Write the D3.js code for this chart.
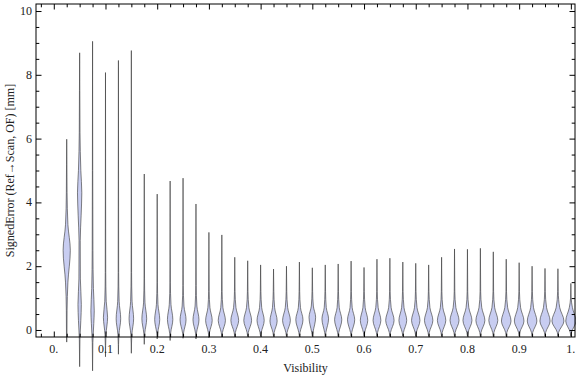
<!DOCTYPE html>
<html>
<head>
<meta charset="utf-8">
<script src="https://cdn.jsdelivr.net/npm/d3@7"></script>
<style>
  body { margin: 0; background: #fff; }
  text { font-family: "Liberation Serif", "DejaVu Serif", serif; font-size: 12px; fill: #222; }
</style>
</head>
<body>
<svg id="chart" width="576" height="377"></svg>
<script>
// visibility bins (one violin each)
const visibility = [0.025, 0.05, 0.075, 0.1, 0.125, 0.15, 0.175, 0.2, 0.225, 0.25,
  0.275, 0.3, 0.325, 0.35, 0.375, 0.4, 0.425, 0.45, 0.475, 0.5,
  0.525, 0.55, 0.575, 0.6, 0.625, 0.65, 0.675, 0.7, 0.725, 0.75,
  0.775, 0.8, 0.825, 0.85, 0.875, 0.9, 0.925, 0.95, 0.975, 1.0];

// extreme signed errors per bin [mm]
const errMax = [5.98, 8.69, 9.05, 8.07, 8.45, 8.76, 4.89, 4.26, 4.67, 4.76,
  3.95, 3.06, 2.98, 2.28, 2.17, 2.04, 1.91, 2.0, 2.13, 1.95,
  2.04, 2.07, 2.16, 1.96, 2.22, 2.25, 2.13, 2.09, 2.04, 2.28,
  2.54, 2.53, 2.56, 2.45, 2.22, 2.11, 2.0, 1.93, 1.92, 1.46];
const errMin = [-0.38, -1.15, -1.28, -0.84, -0.76, -0.73, -0.45, -0.28, -0.33, -0.26,
  -0.28, -0.24, -0.22, -0.21, -0.2, -0.2, -0.2, -0.2, -0.2, -0.19,
  -0.2, -0.2, -0.19, -0.2, -0.2, -0.2, -0.19, -0.2, -0.2, -0.2,
  -0.2, -0.19, -0.2, -0.2, -0.2, -0.19, -0.2, -0.2, -0.2, -0.2];

// density knots inside each violin: [error, relative density]
const density = [
  [[-0.1, 0.04], [0.6, 0.06], [1.5, 0.2], [2.5, 0.6], [3.3, 0.2], [4.3, 0.06], [5.2, 0.03]],
  [[-0.3, 0.05], [0.3, 0.2], [0.8, 0.28], [1.6, 0.12], [2.8, 0.1], [3.6, 0.25], [4.3, 0.36], [5.0, 0.2], [6.2, 0.06], [7.5, 0.03]],
  [[-0.4, 0.05], [0.2, 0.2], [0.6, 0.28], [1.3, 0.14], [2.5, 0.06], [5.0, 0.03]],
  [[-0.15, 0.08], [0.4, 0.35], [0.9, 0.12], [1.8, 0.04]],
  [[-0.15, 0.08], [0.35, 0.38], [0.9, 0.12], [1.8, 0.04]],
  [[-0.15, 0.08], [0.35, 0.38], [0.9, 0.12], [1.8, 0.04]],
  [[-0.1, 0.08], [0.35, 0.4], [0.85, 0.12], [1.6, 0.04]],
  [[-0.1, 0.08], [0.33, 0.42], [0.8, 0.13], [1.5, 0.04]],
  [[-0.1, 0.08], [0.33, 0.45], [0.8, 0.14], [1.5, 0.04]],
  [[-0.1, 0.08], [0.32, 0.5], [0.75, 0.15], [1.4, 0.04]],
  [[-0.1, 0.08], [0.32, 0.5], [0.75, 0.15], [1.4, 0.04]],
  [[-0.08, 0.1], [0.3, 0.55], [0.7, 0.17], [1.2, 0.05]],
  [[-0.08, 0.1], [0.3, 0.6], [0.7, 0.18], [1.2, 0.05]],
  [[-0.08, 0.1], [0.3, 0.65], [0.7, 0.2], [1.2, 0.05]],
  [[-0.08, 0.1], [0.3, 0.65], [0.7, 0.2], [1.2, 0.05]],
  [[-0.08, 0.1], [0.3, 0.6], [0.7, 0.18], [1.2, 0.05]],
  [[-0.08, 0.1], [0.28, 0.6], [0.7, 0.18], [1.2, 0.05]],
  [[-0.08, 0.1], [0.3, 0.65], [0.7, 0.2], [1.2, 0.05]],
  [[-0.08, 0.1], [0.32, 0.6], [0.7, 0.18], [1.2, 0.05]],
  [[-0.08, 0.1], [0.4, 0.55], [0.75, 0.17], [1.2, 0.05]],
  [[-0.08, 0.1], [0.35, 0.55], [0.7, 0.17], [1.2, 0.05]],
  [[-0.08, 0.1], [0.32, 0.6], [0.7, 0.18], [1.2, 0.05]],
  [[-0.08, 0.1], [0.32, 0.6], [0.7, 0.18], [1.2, 0.05]],
  [[-0.08, 0.1], [0.3, 0.62], [0.7, 0.19], [1.2, 0.05]],
  [[-0.08, 0.1], [0.3, 0.65], [0.7, 0.2], [1.2, 0.05]],
  [[-0.08, 0.1], [0.3, 0.7], [0.7, 0.21], [1.2, 0.05]],
  [[-0.08, 0.1], [0.3, 0.65], [0.7, 0.2], [1.2, 0.05]],
  [[-0.08, 0.1], [0.3, 0.7], [0.7, 0.21], [1.2, 0.05]],
  [[-0.08, 0.1], [0.3, 0.7], [0.7, 0.21], [1.2, 0.05]],
  [[-0.08, 0.1], [0.3, 0.7], [0.7, 0.21], [1.2, 0.05]],
  [[-0.08, 0.1], [0.3, 0.75], [0.7, 0.23], [1.2, 0.05]],
  [[-0.08, 0.1], [0.3, 0.75], [0.7, 0.23], [1.2, 0.05]],
  [[-0.08, 0.1], [0.3, 0.75], [0.7, 0.23], [1.2, 0.05]],
  [[-0.08, 0.1], [0.3, 0.75], [0.7, 0.23], [1.2, 0.05]],
  [[-0.08, 0.1], [0.28, 0.8], [0.7, 0.24], [1.2, 0.05]],
  [[-0.08, 0.1], [0.28, 0.8], [0.7, 0.24], [1.2, 0.05]],
  [[-0.08, 0.1], [0.28, 0.8], [0.7, 0.24], [1.2, 0.05]],
  [[-0.08, 0.1], [0.28, 0.85], [0.7, 0.26], [1.2, 0.05]],
  [[-0.08, 0.1], [0.28, 1.0], [0.7, 0.3], [1.2, 0.05]],
  [[-0.08, 0.1], [0.28, 0.85], [0.7, 0.26], [1.0, 0.05]]
];

const xMajor = [0, 0.1, 0.2, 0.3, 0.4, 0.5, 0.6, 0.7, 0.8, 0.9, 1.0];
const xMajorLabels = ["0.", "0.1", "0.2", "0.3", "0.4", "0.5", "0.6", "0.7", "0.8", "0.9", "1."];
const yMajor = [0, 2, 4, 6, 8, 10];

const svg = d3.select("#chart");
const mLeft = 36, mRight = 575, mTop = 4, mBottom = 337;

const x = d3.scaleLinear().domain([-0.0344, 1.008]).range([mLeft, mRight]);
const y = d3.scaleLinear().domain([-0.22, 10.22]).range([mBottom, mTop]);
const w = d3.scaleLinear().domain([0, 1]).range([0, 6]);

// violins
const violins = visibility.map((v, i) => ({
  v: v,
  pts: [[errMin[i], 0]].concat(density[i], [[errMax[i], 0]])
}));

const area = d3.area()
  .curve(d3.curveMonotoneY)
  .y(d => y(d[0]));

svg.append("g")
  .selectAll("path")
  .data(violins)
  .join("path")
  .attr("d", d => area
    .x0(p => x(d.v) - w(p[1]))
    .x1(p => x(d.v) + w(p[1]))(d.pts))
  .attr("fill", "#c8cdf1")
  .attr("stroke", "#3a3a3a")
  .attr("stroke-opacity", 0.7)
  .attr("stroke-width", 0.9);

// frame
svg.append("rect")
  .attr("x", mLeft).attr("y", mTop)
  .attr("width", mRight - mLeft).attr("height", mBottom - mTop)
  .attr("fill", "none").attr("stroke", "#000").attr("stroke-width", 1);

// ticks (inward, on all four sides)
const xMinor = d3.range(-0.025, 1.01, 0.025).filter(t => Math.abs(t * 10 - Math.round(t * 10)) > 1e-6);
const yMinor = d3.range(0, 10.01, 0.5).filter(t => t % 2 !== 0);

function ticks(axis, scale, major, minor, offset) {
  const gMaj = svg.append("g").attr("transform", offset)
    .call(axis(scale).tickValues(major).tickSize(-5.5).tickFormat(""));
  const gMin = svg.append("g").attr("transform", offset)
    .call(axis(scale).tickValues(minor).tickSize(-3.3).tickFormat(""));
  [gMaj, gMin].forEach(g => {
    g.select(".domain").remove();
    g.selectAll("line").attr("stroke", "#000");
  });
}
ticks(d3.axisBottom, x, xMajor, xMinor, `translate(0,${mBottom})`);
ticks(d3.axisTop, x, xMajor, xMinor, `translate(0,${mTop})`);
ticks(d3.axisLeft, y, yMajor, yMinor, `translate(${mLeft},0)`);
ticks(d3.axisRight, y, yMajor, yMinor, `translate(${mRight},0)`);

// tick labels
svg.append("g")
  .selectAll("text")
  .data(xMajor)
  .join("text")
  .attr("x", d => x(d))
  .attr("y", mBottom + 16)
  .attr("text-anchor", "middle")
  .text((d, i) => xMajorLabels[i]);

svg.append("g")
  .selectAll("text")
  .data(yMajor)
  .join("text")
  .attr("x", mLeft - 4)
  .attr("y", d => y(d) + 4)
  .attr("text-anchor", "end")
  .text(d => d);

// axis titles
svg.append("text")
  .attr("x", (mLeft + mRight) / 2)
  .attr("y", 372)
  .attr("text-anchor", "middle")
  .text("Visibility");

svg.append("text")
  .attr("transform", `translate(14,${(mTop + mBottom) / 2}) rotate(-90)`)
  .attr("text-anchor", "middle")
  .text("SignedError (Ref\u2192Scan, OF) [mm]");
</script>
</body>
</html>
